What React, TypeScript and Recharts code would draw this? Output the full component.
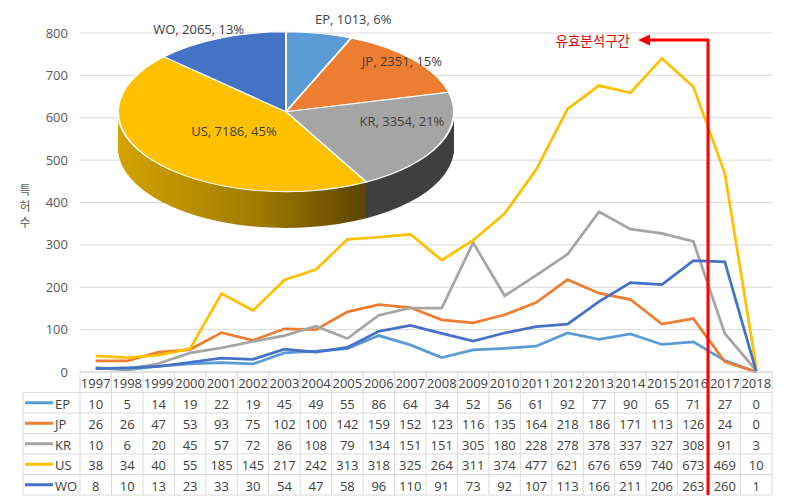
import React from "react";
import { LineChart, Line, XAxis, YAxis, CartesianGrid, PieChart, Pie, Cell } from "recharts";

const years = [
  "1997", "1998", "1999", "2000", "2001", "2002", "2003", "2004", "2005", "2006", "2007",
  "2008", "2009", "2010", "2011", "2012", "2013", "2014", "2015", "2016", "2017", "2018",
];
const ep = [10, 5, 14, 19, 22, 19, 45, 49, 55, 86, 64, 34, 52, 56, 61, 92, 77, 90, 65, 71, 27, 0];
const jp = [26, 26, 47, 53, 93, 75, 102, 100, 142, 159, 152, 123, 116, 135, 164, 218, 186, 171, 113, 126, 24, 0];
const kr = [10, 6, 20, 45, 57, 72, 86, 108, 79, 134, 151, 151, 305, 180, 228, 278, 378, 337, 327, 308, 91, 3];
const us = [38, 34, 40, 55, 185, 145, 217, 242, 313, 318, 325, 264, 311, 374, 477, 621, 676, 659, 740, 673, 469, 10];
const wo = [8, 10, 13, 23, 33, 30, 54, 47, 58, 96, 110, 91, 73, 92, 107, 113, 166, 211, 206, 263, 260, 1];

const seriesNames = ["EP", "JP", "KR", "US", "WO"];
const seriesValues = [ep, jp, kr, us, wo];
const seriesColors = ["#5B9BD5", "#ED7D31", "#A5A5A5", "#FFC000", "#4472C4"];
const wallColors = ["#2E5E8C", "#9A4E18", "#404040", "url(#usWall)", "#263F78"];
const yTicks = [0, 100, 200, 300, 400, 500, 600, 700, 800];
const yAxisTitle = "특허수";
const rangeLabel = "유효분석구간";

const data = years.map((year, i) => {
  const row: any = { year };
  seriesNames.forEach((n, k) => (row[n] = seriesValues[k][i]));
  return row;
});
const pieData = seriesNames.map((name, k) => ({
  name,
  value: seriesValues[k].reduce((a, b) => a + b, 0),
}));

const FONT = "'Open Sans', 'Noto Sans CJK KR', sans-serif";
const W = 786;
const H = 502;
const PL = 80; // plot left
const PR = 772; // plot right
const PB = 372; // plot bottom
const BW = (PR - PL) / years.length;
const ROW = 20.5;
const LEG_L = 23;
const GRID = "#D9D9D9";

// table under the chart, drawn from the x axis ticks
function TableTick(props: any) {
  const { x, payload, index } = props;
  const left = x - BW / 2;
  const bottom = PB + ROW * 6;
  return (
    <g>
      <line x1={left} x2={left} y1={PB} y2={bottom} stroke={GRID} />
      {index === years.length - 1 && (
        <line x1={left + BW} x2={left + BW} y1={PB} y2={bottom} stroke={GRID} />
      )}
      <text x={x} y={PB + ROW / 2 + 1} textAnchor="middle" dominantBaseline="central" fontSize={13} fill="#404040" fontFamily={FONT}>
        {payload.value}
      </text>
      {seriesValues.map((vals, k) => (
        <text key={k} x={x} y={PB + ROW * (k + 1.5) + 1} textAnchor="middle" dominantBaseline="central" fontSize={13} fill="#404040" fontFamily={FONT}>
          {vals[index]}
        </text>
      ))}
      {index === 0 && (
        <g>
          {[1, 2, 3, 4, 5, 6].map((r) => (
            <line key={r} x1={LEG_L} x2={PR} y1={PB + ROW * r} y2={PB + ROW * r} stroke={GRID} />
          ))}
          <line x1={LEG_L} x2={LEG_L} y1={PB + ROW} y2={bottom} stroke={GRID} />
          {seriesNames.map((n, k) => {
            const cy = PB + ROW * (k + 1.5);
            return (
              <g key={n}>
                <line x1={25} x2={53} y1={cy} y2={cy} stroke={seriesColors[k]} strokeWidth={3} />
                <text x={55} y={cy + 1} dominantBaseline="central" fontSize={13} fill="#404040" fontFamily={FONT}>
                  {n}
                </text>
              </g>
            );
          })}
        </g>
      )}
    </g>
  );
}

// 3D pie: squashed vertically, with stacked layers for the wall
const S = 80 / 168;
const PCX = 170;
const PCY = 220;
const PR_ = 168;
const DEPTH = 76;
const layers: number[] = [];
for (let d = DEPTH; d > 0; d -= 2) layers.push(d);

const labelPos: Record<string, [number, number]> = {
  EP: [0.4, -1.16],
  JP: [0.69, -0.64],
  KR: [0.69, 0.11],
  US: [-0.31, 0.24],
  WO: [-0.52, -1.04],
};

function renderPieLabel(p: any) {
  const [fx, fy] = labelPos[p.name] || [0, 0];
  const x = p.cx + fx * p.outerRadius;
  const y = p.cy + fy * p.outerRadius;
  return (
    <text
      transform={`translate(${x},${y}) scale(1,${1 / S})`}
      textAnchor="middle"
      dominantBaseline="central"
      fontSize={13}
      fill="#404040"
      fontFamily={FONT}
    >
      {`${p.name}, ${p.value}, ${Math.round(p.percent * 100)}%`}
    </text>
  );
}

export default function App() {
  return (
    <div style={{ position: "absolute", left: 0, top: 0, width: W, height: H, background: "#fff", fontFamily: FONT }}>
      <svg width={0} height={0} style={{ position: "absolute" }}>
        <defs>
          <linearGradient id="usWall" x1="0" y1="0" x2="1" y2="0">
            <stop offset="0%" stopColor="#D3A300" />
            <stop offset="55%" stopColor="#A27C00" />
            <stop offset="100%" stopColor="#5C4400" />
          </linearGradient>
        </defs>
      </svg>

      <LineChart width={W} height={H} data={data} margin={{ top: 33, right: W - PR, bottom: 100, left: 30 }}>
        <CartesianGrid vertical={false} stroke={GRID} />
        <XAxis
          dataKey="year"
          scale="band"
          interval={0}
          height={30}
          tickLine={false}
          tickSize={0}
          tickMargin={0}
          axisLine={{ stroke: GRID }}
          tick={<TableTick />}
        />
        <YAxis
          width={50}
          domain={[0, 800]}
          ticks={yTicks}
          axisLine={false}
          tickLine={false}
          tickMargin={6}
          tick={{ fontSize: 13, fill: "#595959", fontFamily: FONT }}
          label={{
            content: () => (
              <g>
                {yAxisTitle.split("").map((c, i) => (
                  <text key={i} x={25} y={190 + i * 16} textAnchor="middle" dominantBaseline="central" fontSize={12} fill="#595959" fontFamily={FONT}>
                    {c}
                  </text>
                ))}
              </g>
            ),
          }}
        />
        {seriesNames.map((n, k) => (
          <Line
            key={n}
            type="linear"
            dataKey={n}
            stroke={seriesColors[k]}
            strokeWidth={2.75}
            dot={false}
            isAnimationActive={false}
          />
        ))}
      </LineChart>

      <div
        style={{
          position: "absolute",
          left: 286 - PCX,
          top: 112 - PCY * S,
          width: 340,
          height: 470,
          transform: `scaleY(${S})`,
          transformOrigin: "0 0",
        }}
      >
        <PieChart width={340} height={470} margin={{ top: 0, right: 0, bottom: 0, left: 0 }}>
          {layers.map((d) => (
            <Pie
              key={d}
              data={pieData}
              dataKey="value"
              nameKey="name"
              cx={PCX}
              cy={PCY + d}
              outerRadius={PR_}
              startAngle={90}
              endAngle={-270}
              stroke="none"
              isAnimationActive={false}
            >
              {pieData.map((e, i) => (
                <Cell key={e.name} fill={wallColors[i]} />
              ))}
            </Pie>
          ))}
          <Pie
            data={pieData}
            dataKey="value"
            nameKey="name"
            cx={PCX}
            cy={PCY}
            outerRadius={PR_}
            startAngle={90}
            endAngle={-270}
            stroke="#fff"
            strokeWidth={2}
            label={renderPieLabel}
            labelLine={false}
            isAnimationActive={false}
          >
            {pieData.map((e, i) => (
              <Cell key={e.name} fill={seriesColors[i]} />
            ))}
          </Pie>
        </PieChart>
      </div>

      <svg width={W} height={H} style={{ position: "absolute", left: 0, top: 0, pointerEvents: "none" }}>
        <polyline points="708,495 708,40 648,40" fill="none" stroke="#FF0000" strokeWidth={3} />
        <polygon points="638,40 650,34.5 650,45.5" fill="#FF0000" />
        <text x={630} y={41} textAnchor="end" dominantBaseline="central" fontSize={13.5} fill="#E00000" fontFamily={FONT}>
          {rangeLabel}
        </text>
      </svg>
    </div>
  );
}
